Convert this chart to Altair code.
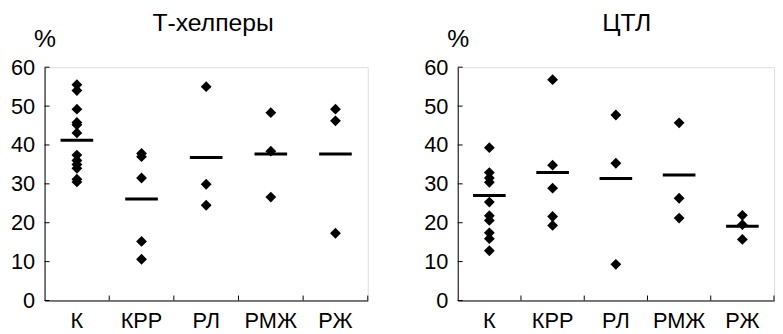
import altair as alt
import pandas as pd

cats = ["К", "КРР", "РЛ", "РМЖ", "РЖ"]
y_ticks = [0, 10, 20, 30, 40, 50, 60]

# Т-хелперы
th_k = [55.5, 54.0, 49.2, 45.8, 45.2, 43.1, 37.4, 36.0, 35.0, 34.0, 31.2, 30.5]
th_krr = [37.8, 37.0, 31.5, 15.2, 10.6]
th_rl = [55.0, 29.9, 24.5]
th_rmzh = [48.3, 38.4, 26.6]
th_rzh = [49.2, 46.2, 17.3]
th_mean = [41.2, 26.1, 36.8, 37.7, 37.7]

# ЦТЛ
ctl_k = [39.3, 32.9, 31.5, 30.4, 25.3, 21.8, 20.6, 17.4, 15.9, 12.8]
ctl_krr = [56.8, 34.8, 28.9, 21.6, 19.3]
ctl_rl = [47.7, 35.3, 9.3]
ctl_rmzh = [45.7, 26.3, 21.2]
ctl_rzh = [21.9, 19.5, 15.7]
ctl_mean = [27.0, 32.9, 31.4, 32.3, 19.1]

FONT = "Liberation Sans"
H = 236

xscale = alt.Scale(domain=cats, paddingInner=0, paddingOuter=0)
yscale = alt.Scale(domain=[0, 60], nice=False)
xaxis = alt.Axis(title=None, ticks=False, labelAngle=0, labelPadding=10, grid=False)
yaxis = alt.Axis(values=y_ticks, tickCount=7, title="%", titleAngle=0, titleX=0, titleY=-21,
                 titleAlign="center", titleBaseline="alphabetic", ticks=False, grid=False,
                 labelPadding=10)


def panel(title, groups, means, width, dx):
    pts = pd.DataFrame([(c, v) for c, vals in zip(cats, groups) for v in vals],
                       columns=["cat", "val"])
    mn = pd.DataFrame({"cat": cats, "val": means})
    x = alt.X("cat:N", scale=xscale, axis=xaxis)
    y = alt.Y("val:Q", scale=yscale, axis=yaxis)
    points = alt.Chart(pts).mark_point(shape="diamond", filled=True, color="black",
                                       size=120, opacity=1).encode(x=x, y=y)
    mean = alt.Chart(mn).mark_tick(color="black", thickness=3, size=33, opacity=1).encode(x=x, y=y)
    yt = alt.Chart(pd.DataFrame({"val": y_ticks})).mark_rule(color="black", strokeWidth=1).encode(
        y=y, x=alt.value(0), x2=alt.value(5))
    xt = alt.Chart(pd.DataFrame({"cat": cats[1:]})).mark_rule(color="black", strokeWidth=1).encode(
        x=alt.X("cat:N", scale=xscale, axis=xaxis, bandPosition=0),
        y=alt.value(H), y2=alt.value(H - 5))
    xend = alt.Chart(pd.DataFrame({"cat": cats[-1:]})).mark_rule(color="black", strokeWidth=1).encode(
        x=alt.X("cat:N", scale=xscale, axis=xaxis, bandPosition=1),
        y=alt.value(H), y2=alt.value(H - 5))
    return alt.layer(points, mean, yt, xt, xend).properties(
        width=width, height=H,
        title=alt.TitleParams(title, anchor="middle", frame="group", dx=dx, offset=-9),
    )


left = panel("Т-хелперы", [th_k, th_krr, th_rl, th_rmzh, th_rzh], th_mean, 327, 7)
right = panel("ЦТЛ", [ctl_k, ctl_krr, ctl_rl, ctl_rmzh, ctl_rzh], ctl_mean, 320, 11)

chart = alt.hconcat(left, right, spacing=55).properties(
    padding={"left": 2, "top": 0, "right": 0, "bottom": 0}
).configure_view(stroke=None).configure(background="white").configure_axis(
    labelFont=FONT, labelFontSize=22, labelColor="black",
    titleFont=FONT, titleFontSize=25, titleFontWeight="normal", titleColor="black",
    domainColor="black", domainWidth=1,
).configure_title(font=FONT, fontSize=25, fontWeight="normal", color="black")

chart.save("out.html", embed_options={"renderer": "svg", "actions": False})
